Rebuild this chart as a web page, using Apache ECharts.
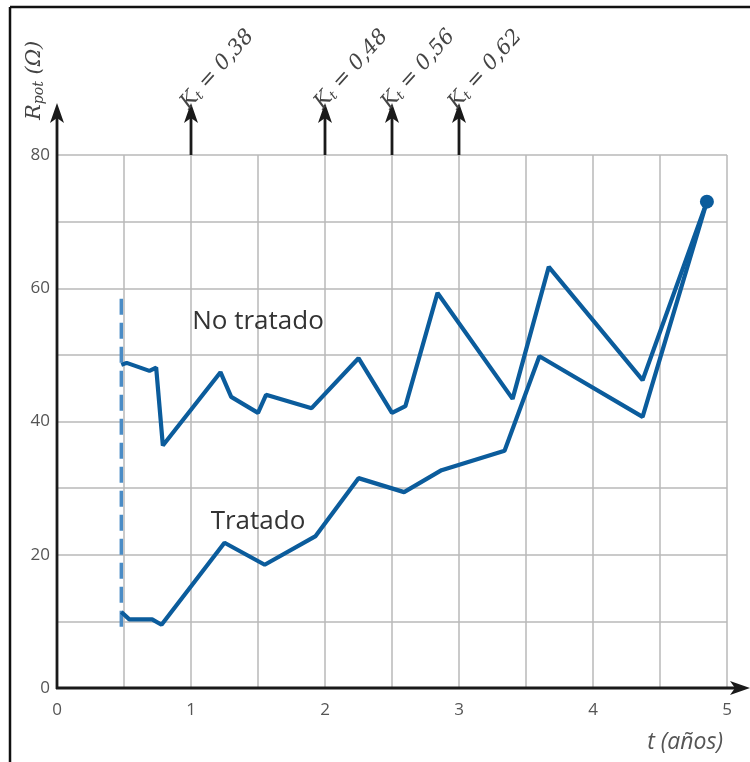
<!DOCTYPE html>
<html>
<head>
<meta charset="utf-8">
<script src="https://cdn.jsdelivr.net/npm/echarts@6/dist/echarts.min.js"></script>
<style>
  html, body { margin: 0; padding: 0; background: #fff; }
  #chart { width: 750px; height: 762px; }
</style>
</head>
<body>
<div id="chart"></div>
<script>
// Resistencia de puesta a tierra a lo largo del tiempo
const tNoTratado = [0.48, 0.52, 0.69, 0.74, 0.79, 1.22, 1.30, 1.50, 1.56, 1.90, 2.25, 2.50, 2.60, 2.84, 3.40, 3.67, 4.37, 4.85];
const rNoTratado = [48.5, 48.8, 47.6, 48.1, 36.4, 47.4, 43.7, 41.3, 44.0, 42.0, 49.5, 41.3, 42.3, 59.3, 43.4, 63.2, 46.2, 73.0];

const tTratado = [0.48, 0.54, 0.71, 0.78, 1.25, 1.55, 1.93, 2.25, 2.59, 2.87, 3.34, 3.60, 4.37, 4.85];
const rTratado = [11.4, 10.3, 10.3, 9.5, 21.8, 18.5, 22.8, 31.5, 29.4, 32.7, 35.6, 49.8, 40.7, 73.0];

// Instante del tratamiento (línea discontinua)
const tTratamiento = 0.48;
const rTratamiento = [9.2, 58.6];

// Punto final común
const puntoFinal = [4.85, 73.0];

// Marcas de Kt sobre el eje temporal
const tKt = [1, 2, 2.5, 3];
const valoresKt = ['0,38', '0,48', '0,56', '0,62'];

const xTicks = [0, 1, 2, 3, 4, 5];
const yTicks = [0, 20, 40, 60, 80];

const lineColor = '#0b5c9c';
const axisColor = '#1a1a1a';

const zip = (xs, ys) => xs.map((x, i) => [x, ys[i]]);

const chart = echarts.init(document.getElementById('chart'));
chart.setOption({
  animation: false,
  backgroundColor: '#fff',
  grid: { left: 57, right: 23, top: 155, bottom: 74 },
  xAxis: {
    type: 'value', min: 0, max: 5, interval: 0.5,
    axisLine: { show: false },
    axisTick: { show: false },
    axisLabel: {
      color: '#555', fontSize: 17, fontFamily: 'Open Sans', margin: 14,
      formatter: v => (xTicks.indexOf(v) >= 0 ? String(v) : '')
    },
    splitLine: { show: true, lineStyle: { color: '#b8b8b8', width: 1.5 } }
  },
  yAxis: {
    type: 'value', min: 0, max: 80, interval: 10,
    axisLine: { show: false },
    axisTick: { show: false },
    axisLabel: {
      color: '#555', fontSize: 17, fontFamily: 'Open Sans', margin: 7,
      formatter: v => (yTicks.indexOf(v) >= 0 ? String(v) : '')
    },
    splitLine: { show: true, lineStyle: { color: '#b8b8b8', width: 1.5 } }
  },
  series: [
    {
      name: 'Instante tratamiento', type: 'line',
      data: [[tTratamiento, rTratamiento[0]], [tTratamiento, rTratamiento[1]]],
      showSymbol: false, symbol: 'none',
      lineStyle: { color: '#4a8cc6', width: 3.5, type: [16, 8] },
      z: 3
    },
    {
      name: 'No tratado', type: 'line', data: zip(tNoTratado, rNoTratado),
      showSymbol: false, symbol: 'none',
      lineStyle: { color: lineColor, width: 4.2 }, z: 4
    },
    {
      name: 'Tratado', type: 'line', data: zip(tTratado, rTratado),
      showSymbol: false, symbol: 'none',
      lineStyle: { color: lineColor, width: 4.2 }, z: 4
    },
    {
      name: 'Final', type: 'scatter', data: [puntoFinal],
      symbolSize: 14, itemStyle: { color: lineColor, opacity: 1 }, z: 5
    }
  ]
});

// Ejes con flecha, flechas de Kt y textos
const px = (x, y) => chart.convertToPixel({ gridIndex: 0 }, [x, y]);
const origin = px(0, 0);
const topGrid = px(0, 80)[1];
const rightGrid = px(5, 0)[0];
const arrowTipY = topGrid - 52;

function arrowUp(x, yFrom, yTip) {
  return [
    { type: 'line', shape: { x1: x, y1: yFrom, x2: x, y2: yTip + 14 },
      style: { stroke: axisColor, lineWidth: 2.8 }, z: 10 },
    { type: 'polygon', shape: { points: [[x, yTip], [x - 7, yTip + 20], [x, yTip + 15], [x + 7, yTip + 20]] },
      style: { fill: axisColor }, z: 10 }
  ];
}

const elems = [];
// Marco
elems.push({ type: 'line', shape: { x1: 10, y1: 7, x2: 750, y2: 7 }, style: { stroke: '#111', lineWidth: 2.5 } });
elems.push({ type: 'line', shape: { x1: 10, y1: 7, x2: 10, y2: 762 }, style: { stroke: '#111', lineWidth: 2.5 } });

// Eje Y
elems.push(...arrowUp(origin[0], origin[1] + 1, arrowTipY));
// Eje X
const xTip = rightGrid + 23;
elems.push({ type: 'line', shape: { x1: origin[0] - 1, y1: origin[1], x2: xTip - 12, y2: origin[1] },
  style: { stroke: axisColor, lineWidth: 2.8 }, z: 10 });
elems.push({ type: 'polygon', shape: { points: [[xTip, origin[1]], [xTip - 20, origin[1] - 7], [xTip - 15, origin[1]], [xTip - 20, origin[1] + 7]] },
  style: { fill: axisColor }, z: 10 });

// Flechas Kt
const serifRich = (size) => ({ fontFamily: 'DejaVu Serif', fontStyle: 'italic', fontSize: size, fill: '#444', lineHeight: 26 });
tKt.forEach((t, i) => {
  const x = px(t, 80)[0];
  elems.push(...arrowUp(x, topGrid, arrowTipY));
  elems.push({
    type: 'text', x: x + 3, y: arrowTipY + 12, rotation: 48 * Math.PI / 180,
    style: {
      text: '{k|K}{s|t}{n| = ' + valoresKt[i] + '}',
      align: 'left', verticalAlign: 'bottom',
      rich: {
        k: serifRich(21),
        s: Object.assign(serifRich(13), { padding: [9, 0, 0, 0] }),
        n: serifRich(21)
      }
    }, z: 10
  });
});

// Nombre eje Y
elems.push({
  type: 'text', x: 35, y: 120, rotation: Math.PI / 2,
  style: {
    text: '{r|R}{s|pot}{n| (Ω)}',
    align: 'left', verticalAlign: 'middle',
    rich: {
      r: serifRich(21),
      s: Object.assign(serifRich(14), { padding: [9, 0, 0, 0] }),
      n: serifRich(21)
    }
  }, z: 10
});

// Nombre eje X
elems.push({
  type: 'text', x: 723, y: 742,
  style: { text: 't (años)', align: 'right', verticalAlign: 'middle',
    font: 'italic 23px "Open Sans"', fill: '#555' }, z: 10
});

// Rótulos de las curvas
const pNo = px(1.5, 55);
elems.push({ type: 'text', x: pNo[0], y: pNo[1],
  style: { text: 'No tratado', align: 'center', verticalAlign: 'middle', font: '26px "Open Sans"', fill: '#333' }, z: 10 });
const pSi = px(1.5, 25);
elems.push({ type: 'text', x: pSi[0], y: pSi[1],
  style: { text: 'Tratado', align: 'center', verticalAlign: 'middle', font: '26px "Open Sans"', fill: '#333' }, z: 10 });

chart.setOption({ graphic: { elements: elems } });
</script>
</body>
</html>
